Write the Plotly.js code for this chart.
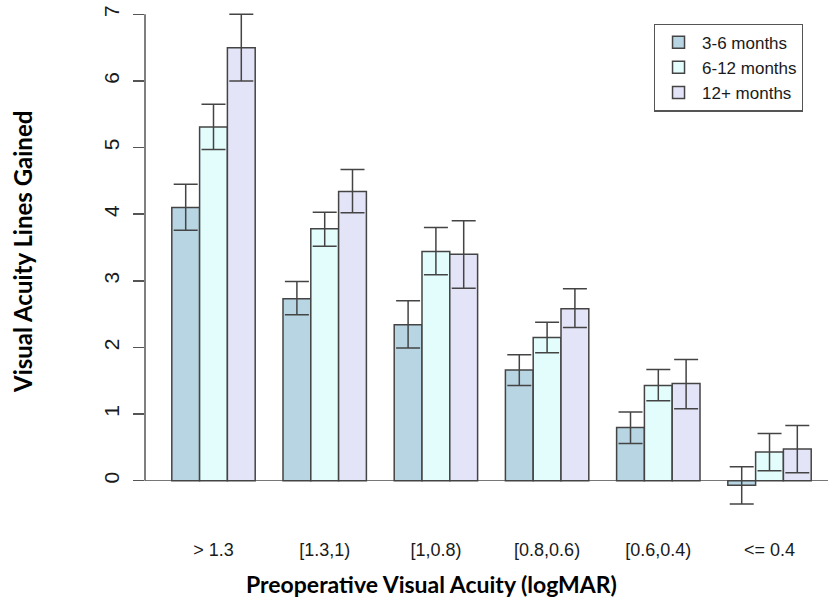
<!DOCTYPE html>
<html>
<head>
<meta charset="utf-8">
<script src="https://cdn.plot.ly/plotly-3.0.1.min.js"></script>
<style>html,body{margin:0;padding:0;background:#fff;}#chart{width:828px;height:603px;}</style>
</head>
<body>
<div id="chart"></div>
<script>
const categories = ["> 1.3", "[1.3,1)", "[1,0.8)", "[0.8,0.6)", "[0.6,0.4)", "<= 0.4"];
const seriesNames = ["3-6 months", "6-12 months", "12+ months"];
const values36 = [4.10, 2.73, 2.34, 1.66, 0.80, -0.07];
const upper36 = [4.45, 2.99, 2.70, 1.89, 1.03, 0.21];
const lower36 = [3.76, 2.49, 1.99, 1.43, 0.56, -0.35];
const values612 = [5.31, 3.78, 3.44, 2.15, 1.43, 0.43];
const upper612 = [5.65, 4.03, 3.80, 2.38, 1.67, 0.71];
const lower612 = [4.97, 3.52, 3.09, 1.92, 1.20, 0.15];
const values12p = [6.50, 4.34, 3.40, 2.58, 1.46, 0.475];
const upper12p = [7.00, 4.67, 3.90, 2.88, 1.82, 0.83];
const lower12p = [6.00, 4.02, 2.89, 2.30, 1.08, 0.12];
const yTickVals = [0, 1, 2, 3, 4, 5, 6, 7];
const colors = ["#B7D5E2", "#E3FDFD", "#E4E4F8"];
const xTitle = "Preoperative Visual Acuity (logMAR)";
const yTitle = "Visual Acuity Lines Gained";

function mk(name, vals, up, lo, color) {
  return {
    type: "bar",
    name: name,
    x: categories,
    y: vals,
    marker: {color: color, line: {color: "#444", width: 1.5}},
    error_y: {
      type: "data", symmetric: false,
      array: up.map((u, i) => u - vals[i]),
      arrayminus: lo.map((l, i) => vals[i] - l),
      color: "#444", thickness: 1.5, width: 12
    }
  };
}
const data = [
  mk(seriesNames[0], values36, upper36, lower36, colors[0]),
  mk(seriesNames[1], values612, upper612, lower612, colors[1]),
  mk(seriesNames[2], values12p, upper12p, lower12p, colors[2])
];

const titleFont = {family: "Lato, sans-serif", color: "#000", weight: "bold"};
const layout = {
  width: 828, height: 603,
  margin: {l: 145, r: 0, t: 12.7, b: 88.6, pad: 0},
  paper_bgcolor: "#fff", plot_bgcolor: "#fff",
  barmode: "group", bargap: 0.25, bargroupgap: 0,
  font: {family: "Liberation Sans, Arial, sans-serif", size: 15, color: "#222"},
  xaxis: {
    type: "category", range: [-0.616, 5.526],
    showline: false, showgrid: false, zeroline: false,
    ticks: "outside", ticklen: 19, tickcolor: "rgba(0,0,0,0)",
    tickfont: {family: "Liberation Sans, Arial, sans-serif", size: 18, color: "#1a1a1a"}
  },
  yaxis: {
    range: [-0.5, 7.02], tickmode: "array", tickvals: yTickVals,
    ticktext: yTickVals.map(String),
    showline: false, showgrid: false,
    zeroline: true, zerolinecolor: "#777", zerolinewidth: 1.5,
    ticks: "outside", ticklen: 11, tickwidth: 1.5, tickcolor: "#555",
    tickangle: -90, ticklabelstandoff: 6,
    tickfont: {family: "Liberation Sans, Arial, sans-serif", size: 21, color: "#1a1a1a"}
  },
  shapes: [{type: "line", xref: "paper", yref: "y", x0: 0, x1: 0, y0: 0, y1: 7,
            line: {color: "#555", width: 1.5}}],
  annotations: [
    {text: xTitle, xref: "paper", yref: "paper", x: 0.42, y: -0.139,
     xanchor: "center", yanchor: "middle", showarrow: false,
     font: Object.assign({size: 23}, titleFont)},
    {text: yTitle, xref: "paper", yref: "paper", x: -0.1786, y: 0.523,
     xanchor: "center", yanchor: "middle", showarrow: false, textangle: -90,
     font: Object.assign({size: 24}, titleFont)}
  ],
  legend: {
    x: 0.745, y: 0.979, xanchor: "left", yanchor: "top",
    bgcolor: "#fff", bordercolor: "#555", borderwidth: 1.2,
    font: {family: "Liberation Sans, Arial, sans-serif", size: 17, color: "#1a1a1a"},
    itemwidth: 37, tracegroupgap: 0
  },
  showlegend: true
};
Plotly.newPlot("chart", data, layout, {displayModeBar: false, staticPlot: true});
</script>
</body>
</html>
